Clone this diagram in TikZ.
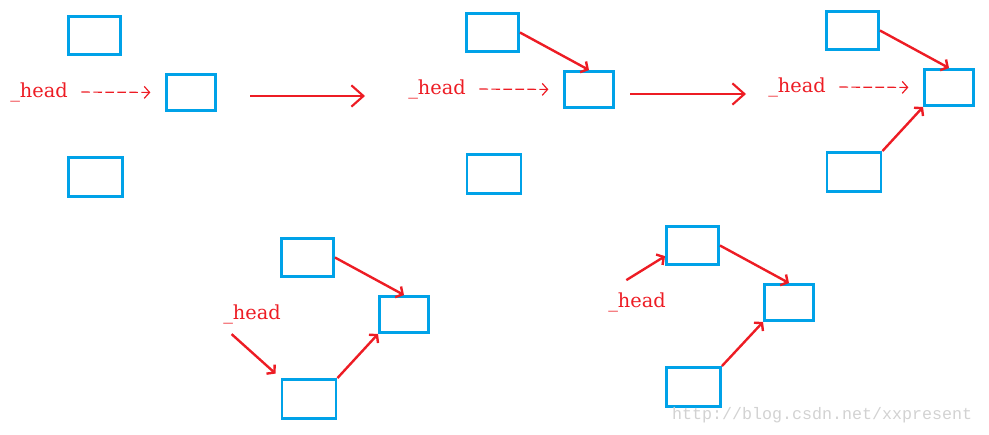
\documentclass[tikz,border=0pt]{standalone}
\usepackage{fontspec}
\setmainfont{DejaVu Serif}
\newfontfamily\wmfont{Liberation Mono}
\usetikzlibrary{arrows.meta}
\definecolor{boxblue}{RGB}{0,162,232}
\definecolor{penred}{RGB}{237,28,36}
\tikzset{
  topbox/.style  = {rectangle, draw=boxblue, line width=2.2pt, minimum width=39pt, minimum height=28.5pt, inner sep=0},
  midbox/.style  = {rectangle, draw=boxblue, line width=2.2pt, minimum width=36.75pt, minimum height=27pt, inner sep=0},
  botbox/.style  = {rectangle, draw=boxblue, line width=2.2pt, minimum width=40.5pt, minimum height=29.25pt, inner sep=0},
  hd/.style      = {text=penred, font=\fontsize{14.5}{16}\selectfont, inner sep=1pt},
  hdptr/.style   = {penred, line width=0.9pt, dash pattern=on 6.5pt off 2.5pt, -{Straight Barb[length=4pt,width=9pt]}, shorten <=9pt, shorten >=11pt},
  nxt/.style     = {penred, line width=1.8pt, -{Straight Barb[angle=100:6pt]}},
  stagearr/.style= {penred, line width=1.6pt, -{Straight Barb[length=9pt,width=16pt]}},
  wm/.style      = {text=gray!35, font=\wmfont\fontsize{12.5}{14}\selectfont}
}

\begin{document}
\begin{tikzpicture}[x=0.75pt, y=-0.75pt]
  \useasboundingbox (0,0) rectangle (989,435);

  % ---------- stato 1 ----------
  \node[topbox] (t1) at (94.5,35.5) {};
  \node[midbox] (m1) at (191,92.5) {};
  \node[botbox] (b1) at (95.5,177) {};
  \node[hd] (h1) at (39,92) {\_head};
  \draw[hdptr] (h1.east) -- (m1.west);

  \coordinate (s1) at (250,96); \coordinate (e1) at (365,96);
  \draw[stagearr] (s1) -- (e1);

  % ---------- stato 2 ----------
  \node[topbox] (t2) at (492.5,32.5) {};
  \node[midbox] (m2) at (589,89.5) {};
  \node[botbox] (b2) at (494,174) {};
  \node[hd] (h2) at (437,89) {\_head};
  \draw[hdptr] (h2.east) -- (m2.west);
  \draw[nxt] (t2.east) -- (m2.north);

  \coordinate (s2) at (630,94); \coordinate (e2) at (746,94);
  \draw[stagearr] (s2) -- (e2);

  % ---------- stato 3 ----------
  \node[topbox] (t3) at (852.5,30.5) {};
  \node[midbox] (m3) at (949,87.5) {};
  \node[botbox] (b3) at (854,172) {};
  \node[hd] (h3) at (797,87) {\_head};
  \draw[hdptr] (h3.east) -- (m3.west);
  \draw[nxt] (t3.east) -- (m3.north);
  \draw[nxt] (b3.north east) -- (m3.south west);

  % ---------- stato 4 ----------
  \node[topbox] (t4) at (307.5,257.5) {};
  \node[midbox] (m4) at (404,314.5) {};
  \node[botbox] (b4) at (309,399) {};
  \node[hd] (h4) at (252,314) {\_head};
  \draw[nxt, shorten <=10pt, shorten >=5pt] (h4.south west) -- (b4.north west);
  \draw[nxt] (t4.east) -- (m4.north);
  \draw[nxt] (b4.north east) -- (m4.south west);

  % ---------- stato 5 ----------
  \node[topbox] (t5) at (692.5,245.5) {};
  \node[midbox] (m5) at (789,302.5) {};
  \node[botbox] (b5) at (693.5,387) {};
  \node[hd] (h5) at (637,302) {\_head};
  \draw[nxt] ([shift={(-8pt,8pt)}]h5.north) -- ([yshift=-8pt]t5.west);
  \draw[nxt] (t5.east) -- (m5.north);
  \draw[nxt] (b5.north east) -- (m5.south west);

  \node[wm, anchor=east] (wmk) at (977,415) {http://blog.csdn.net/xxpresent};

\end{tikzpicture}
\end{document}
